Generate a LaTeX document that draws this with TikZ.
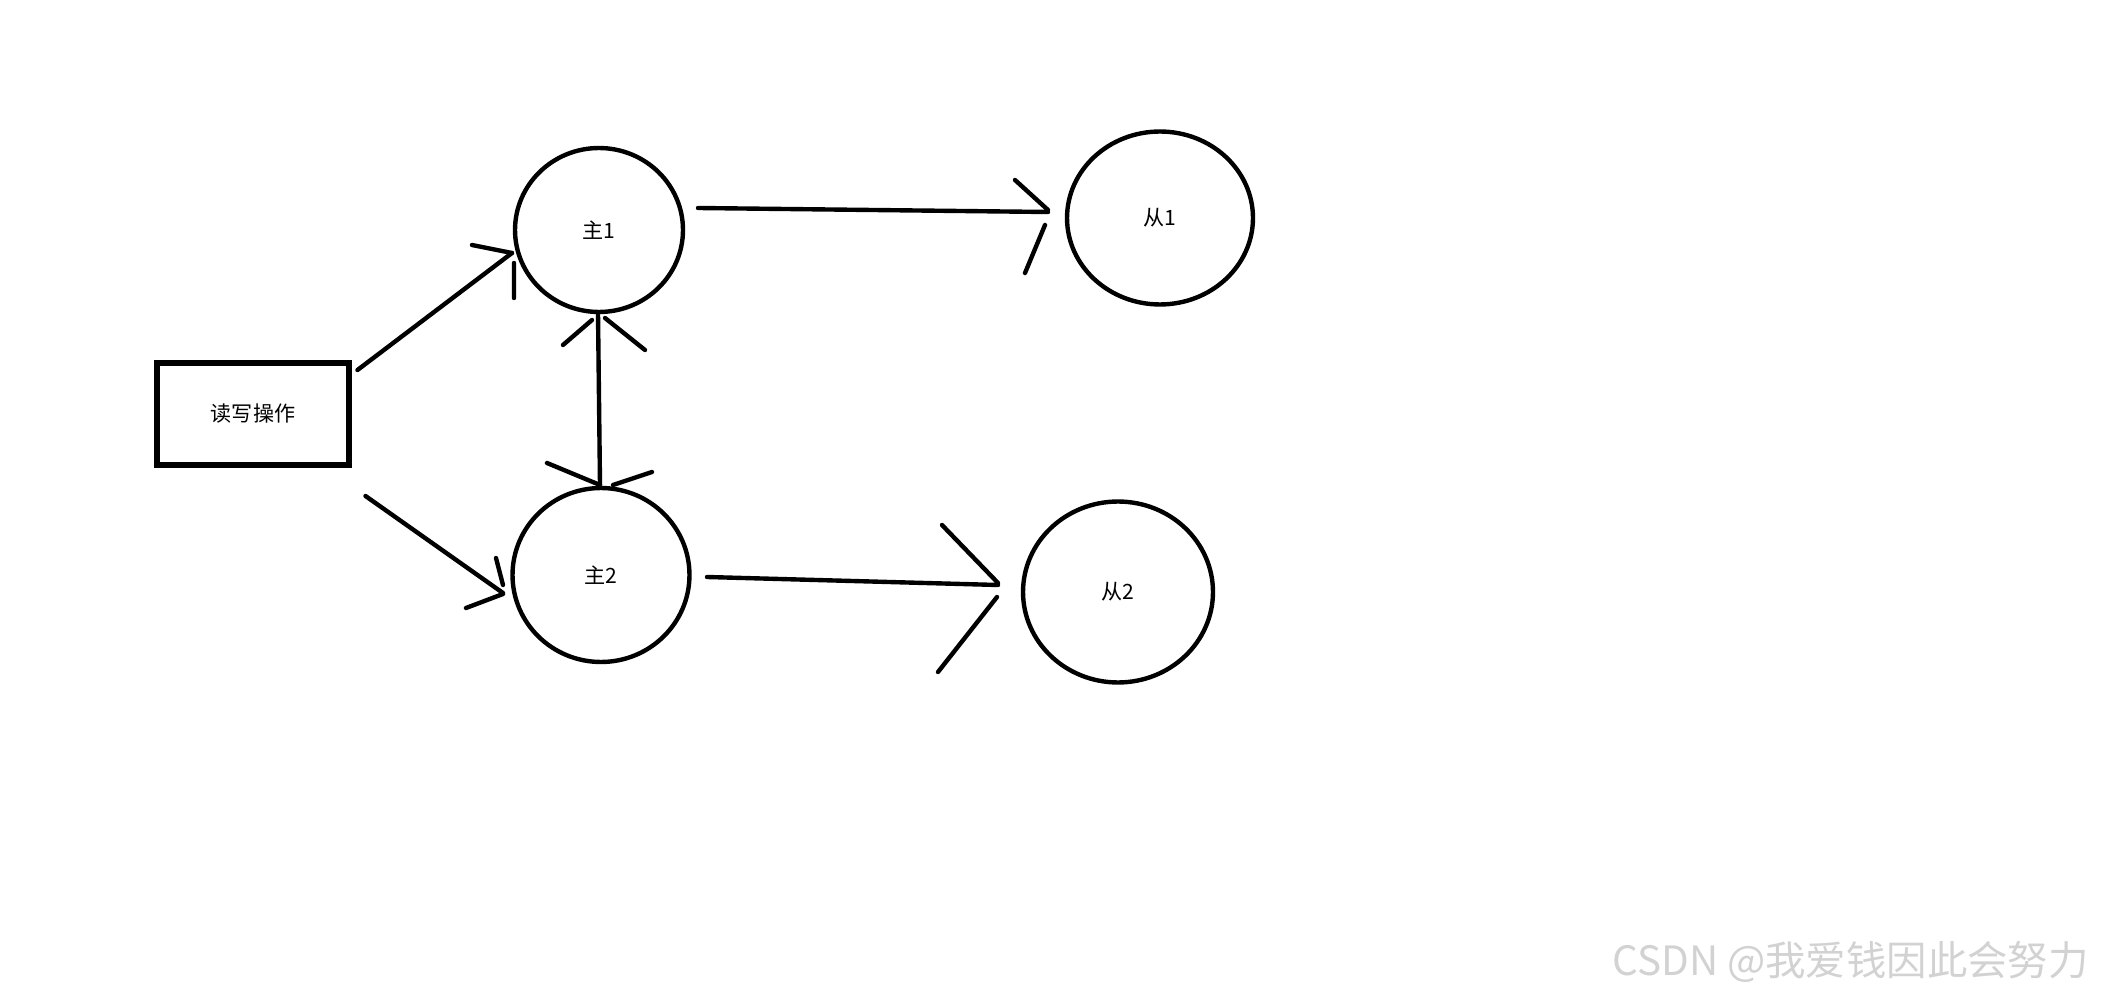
\documentclass[tikz,border=0pt]{standalone}
\usepackage{fontspec}
\newfontfamily\cjk{Noto Sans CJK SC}
\usetikzlibrary{shapes.geometric, calc}

\begin{document}
\begin{tikzpicture}[x=0.02cm, y=-0.02cm,
    every node/.style={font=\cjk\fontsize{12}{14}\selectfont},
    tratto/.style={line width=2.5pt, line cap=round},
    cerchio/.style={draw, ellipse, line width=2.5pt, inner sep=0pt}]
    \useasboundingbox (0,0) rectangle (2103,996);
    %disegno nodi
        \node[draw, line width=3.4pt, minimum width=3.86cm, minimum height=2.04cm] (rw) at (253,414) {读写操作};
        \node[cerchio, minimum width=3.36cm, minimum height=3.28cm] (m1) at (599,230) {主1};
        \node[cerchio, minimum width=3.54cm, minimum height=3.48cm] (m2) at (601,575) {主2};
        \node[cerchio, minimum width=3.72cm, minimum height=3.46cm] (s1) at (1160,218) {从1};
        \node[cerchio, minimum width=3.80cm, minimum height=3.62cm] (s2) at (1118,592) {从2};
    %estremi frecce
        \coordinate (a1s) at ($(rw.north east)+(5,10)$);
        \coordinate (a1e) at ($(m1.center)+(-87,23)$);
        \coordinate (a2s) at ($(rw.south east)+(13,28)$);
        \coordinate (a2e) at ($(m2.center)+(-98,18)$);
        \coordinate (a3s) at ($(m1.south)+(-1,-1)$);
        \coordinate (a3e) at ($(m2.north)+(-1,-1)$);
        \coordinate (a4s) at ($(m1.center)+(99,-22)$);
        \coordinate (a4e) at ($(s1.center)+(-112,-6)$);
        \coordinate (a5s) at ($(m2.center)+(106,2)$);
        \coordinate (a5e) at ($(s2.center)+(-120,-7)$);
    %disegno frecce
        \draw[tratto] (a1s)--(a1e);
        \draw[tratto] (472,245)--(a1e) ($(a1e)+(2,10)$)--++(0,35);
        \draw[tratto] (a2s)--(a2e);
        \draw[tratto] (496,558)--($(a2e)+(0,-8)$) (466,608)--($(a2e)+(0,1)$);
        \draw[tratto] (a3s)--(a3e);
        \draw[tratto] (563,345)--(592,320) (605,318)--(645,350);
        \draw[tratto] (547,463)--(600,485) (613,485)--(652,472);
        \draw[tratto] (a4s)--(a4e);
        \draw[tratto] (1015,180)--($(a4e)+(0,-2)$) (1045,225)--(1025,273);
        \draw[tratto] (a5s)--(a5e);
        \draw[tratto] (942,525)--($(a5e)+(0,-2)$) (997,597)--(938,672);
    %scritta
        \node[anchor=east, text=gray!35, font=\cjk\fontsize{23}{26}\selectfont] (firma) at (2095,962) {CSDN @我爱钱因此会努力};
\end{tikzpicture}
\end{document}
